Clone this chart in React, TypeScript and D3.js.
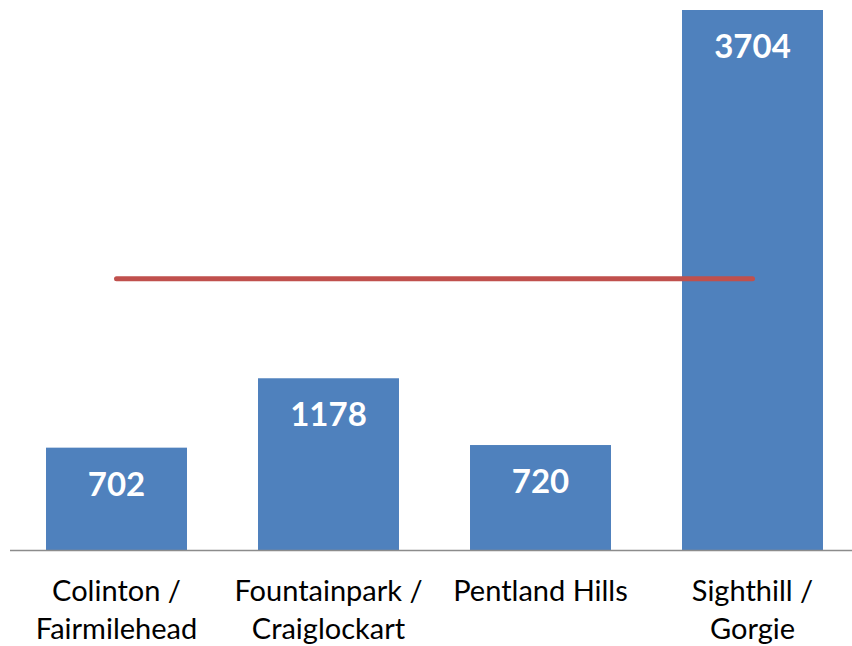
import React from 'react';
import * as d3 from 'd3';

const width = 852;
const height = 646;
const baseline = 550;
const plotTop = 10;

const categories = [
  ['Colinton /', 'Fairmilehead'],
  ['Fountainpark /', 'Craiglockart'],
  ['Pentland Hills'],
  ['Sighthill /', 'Gorgie'],
];
const values = [702, 1178, 720, 3704];
const referenceValue = 1860;

const barColor = '#4F81BD';
const lineColor = '#C0504D';
const font = 'Lato, "Open Sans", sans-serif';

const App = () => {
  const keys = categories.map((c) => c.join(' '));

  const x = d3
    .scaleBand()
    .domain(keys)
    .range([10.5, 858.5])
    .paddingInner(0.335)
    .paddingOuter(0.1675);

  const y = d3.scaleLinear().domain([0, 3704]).range([baseline, plotTop]);

  const first = x(keys[0])! + x.bandwidth() / 2;
  const last = x(keys[keys.length - 1])! + x.bandwidth() / 2;

  return (
    <svg
      width={width}
      height={height}
      style={{ position: 'absolute', left: 0, top: 0, background: '#fff' }}
    >
      {values.map((v, i) => (
        <rect
          key={keys[i]}
          x={x(keys[i])}
          y={y(v)}
          width={x.bandwidth()}
          height={y(0) - y(v)}
          fill={barColor}
        />
      ))}
      <line
        x1={10}
        x2={width}
        y1={baseline + 0.5}
        y2={baseline + 0.5}
        stroke="#8C8C8C"
        strokeWidth={1.5}
      />
      <line
        x1={first}
        x2={last}
        y1={y(referenceValue)}
        y2={y(referenceValue)}
        stroke={lineColor}
        strokeWidth={5}
        strokeLinecap="round"
      />
      {values.map((v, i) => (
        <text
          key={'v' + i}
          x={x(keys[i])! + x.bandwidth() / 2}
          y={y(v) + 48}
          textAnchor="middle"
          fill="#fff"
          fontFamily={font}
          fontWeight={700}
          fontSize={33}
        >
          {v}
        </text>
      ))}
      {categories.map((lines, i) => (
        <text
          key={'c' + i}
          x={x(keys[i])! + x.bandwidth() / 2}
          textAnchor="middle"
          fill="#000"
          fontFamily={font}
          fontSize={29}
        >
          {lines.map((l, j) => (
            <tspan key={j} x={x(keys[i])! + x.bandwidth() / 2} y={601 + j * 38}>
              {l}
            </tspan>
          ))}
        </text>
      ))}
    </svg>
  );
};

export default App;
